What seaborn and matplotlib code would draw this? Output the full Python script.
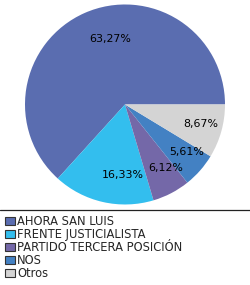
import matplotlib
matplotlib.use('Agg')
import matplotlib.pyplot as plt
import seaborn as sns
from matplotlib.lines import Line2D
from matplotlib.patches import Patch

# Data
parties = ['AHORA SAN LUIS', 'FRENTE JUSTICIALISTA', 'PARTIDO TERCERA POSICIÓN', 'NOS', 'Otros']
shares = [63.27, 16.33, 6.12, 5.61, 8.67]
colors = ['#5A6DB0', '#33BEEE', '#7468A8', '#4381C3', '#D4D4D4']
# small horizontal nudge of the percentage labels (data units)
label_nudge = [0.14, 0.14, 0.07, 0.08, 0.06]

sns.set_style('white')
plt.rcParams['font.family'] = ['DejaVu Sans']

fig = plt.figure(figsize=(2.5, 2.85), dpi=100)
fig.patch.set_facecolor('white')

# pie area: centre ~(125,104), radius ~100 px
ax = fig.add_axes([0.1, 0.2825, 0.8, 0.7018])
wedges, texts, autotexts = ax.pie(
    shares, colors=colors, startangle=0, counterclock=True,
    autopct=lambda p: f'{p:.2f}'.replace('.', ',') + '%',
    pctdistance=0.72, radius=1.0,
    wedgeprops=dict(linewidth=0),
    textprops=dict(fontsize=7.9, color='black'))
for t, dx in zip(autotexts, label_nudge):
    x, y = t.get_position()
    t.set_position((x + dx, y))
ax.set_xlim(-1, 1)
ax.set_ylim(-1, 1)
ax.set_aspect('equal')
ax.axis('off')

# separator line above the legend
fig.add_artist(Line2D([0, 1], [1 - 210 / 285, 1 - 210 / 285], color='#222222', linewidth=0.9))

handles = [Patch(facecolor=c, edgecolor='#333333', linewidth=0.8) for c in colors]
fig.legend(handles, parties, loc='upper left', bbox_to_anchor=(5 / 250, 1 - 215 / 285),
           frameon=False, fontsize=8.3, labelspacing=0.0, handlelength=0.87,
           handleheight=0.74, handletextpad=0.2, borderaxespad=0, borderpad=0)

fig.savefig('out.png', dpi=100, facecolor='white')
